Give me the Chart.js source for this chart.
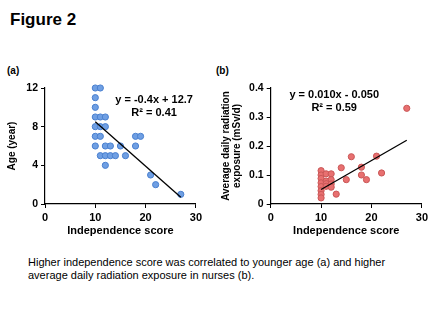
<!DOCTYPE html>
<html>
<head>
<meta charset="utf-8">
<script src="https://cdn.jsdelivr.net/npm/chart.js@4"></script>
<style>
    html, body { margin: 0; padding: 0; background: #fff; }
    body { width: 440px; height: 330px; position: relative; overflow: hidden; font-family: "Liberation Sans", Arial, sans-serif; color: #000; }
    .fig-title { position: absolute; left: 10px; top: 10px; font-size: 17px; font-weight: bold; }
    .panel { position: absolute; top: 65px; font-size: 10px; font-weight: bold; }
    .caption { position: absolute; left: 28px; top: 256px; font-size: 11px; line-height: 13px; }
    .box { position: absolute; }
</style>
</head>
<body>
<div class="fig-title">Figure 2</div>
<div class="panel" style="left:7px;">(a)</div>
<div class="panel" style="left:216px;">(b)</div>

<div class="box" style="left:0px; top:78px; width:205px; height:160px;"><canvas id="ageChart"></canvas></div>
<div class="box" style="left:208px; top:78px; width:223px; height:160px;"><canvas id="radChart"></canvas></div>

<div class="caption">Higher independence score was correlated to younger age (a) and higher<br>average daily radiation exposure in nurses (b).</div>

<script>
// Panel (a): independence score vs age
const ageScore = [10, 11, 10, 10, 10, 11, 12, 10, 11, 12, 10, 11, 18, 19, 10, 12, 13, 15, 18, 11, 12, 13, 14, 16, 12, 21, 22, 27];
const ageYears = [12, 12, 11, 10, 9, 9, 9, 8, 8, 8, 7, 7, 7, 7, 6, 6, 6, 6, 6, 5, 5, 5, 5, 5, 4, 3, 2, 1];
const ageTrendX = [10, 27];
const ageTrendY = [8.5, 0.7];
const ageTicks = [0, 4, 8, 12];

// Panel (b): independence score vs average daily radiation exposure
const radScore = [10, 10, 10, 10, 10, 10, 10, 10, 11, 11, 11, 11, 12, 12, 12, 12, 13, 14, 15, 16, 18, 18, 19, 21, 22, 27];
const radDose = [0.115, 0.10, 0.088, 0.073, 0.06, 0.046, 0.033, 0.021, 0.104, 0.079, 0.07, 0.061, 0.104, 0.084, 0.069, 0.058, 0.034, 0.125, 0.084, 0.163, 0.127, 0.10, 0.084, 0.165, 0.107, 0.33];
const radTrendX = [10, 27];
const radTrendY = [0.05, 0.22];
const radTicks = [0, 0.1, 0.2, 0.3, 0.4];

const scoreTicks = [0, 10, 20, 30];

const FONT = "'Liberation Sans', Arial, sans-serif";

function toPoints(xs, ys) {
    return xs.map((x, i) => ({ x: x, y: ys[i] }));
}

// draws the regression equation text at a data-space anchor
const equationPlugin = {
    id: "equation",
    afterDatasetsDraw(chart, args, opts) {
        const ctx = chart.ctx;
        const xs = chart.scales.x;
        const ys = chart.scales.y;
        ctx.save();
        ctx.fillStyle = "#000";
        ctx.font = "bold 11px " + FONT;
        ctx.textAlign = "center";
        ctx.textBaseline = "middle";
        opts.lines.forEach(line => {
            ctx.fillText(line.text, xs.getPixelForValue(line.x), ys.getPixelForValue(line.y));
        });
        ctx.restore();
    }
};

function makeScatter(canvasId, cfg) {
    const ctx = document.getElementById(canvasId).getContext("2d");
    return new Chart(ctx, {
        type: "scatter",
        data: {
            datasets: [
                {
                    data: toPoints(cfg.xs, cfg.ys),
                    backgroundColor: cfg.fill,
                    borderColor: cfg.edge,
                    borderWidth: 1,
                    pointRadius: 3.1,
                    clip: false,
                    order: 2
                },
                {
                    type: "line",
                    data: toPoints(cfg.trendX, cfg.trendY),
                    borderColor: "#000",
                    borderWidth: 1.3,
                    pointRadius: 0,
                    fill: false,
                    order: 1
                }
            ]
        },
        plugins: [equationPlugin],
        options: {
            responsive: true,
            maintainAspectRatio: false,
            animation: false,
            events: [],
            layout: { padding: { top: 10, right: 9, left: 0, bottom: 0 } },
            plugins: {
                legend: { display: false },
                tooltip: { enabled: false },
                equation: { lines: cfg.equation }
            },
            scales: {
                x: {
                    type: "linear",
                    min: 0,
                    max: 30,
                    afterBuildTicks: s => { s.ticks = scoreTicks.map(v => ({ value: v })); },
                    afterFit: s => { s.height = 34; },
                    border: { color: "#000", width: 1.2 },
                    grid: { display: true, drawOnChartArea: false, drawTicks: true, tickLength: 4, color: "#000" },
                    ticks: { color: "#000", font: { family: FONT, size: 11, weight: "bold" }, padding: 3, maxRotation: 0 },
                    title: { display: true, text: "Independence score", color: "#000", font: { family: FONT, size: 11, weight: "bold" }, padding: { top: 0, bottom: 0 } }
                },
                y: {
                    type: "linear",
                    min: cfg.yMin,
                    max: cfg.yMax,
                    afterBuildTicks: s => { s.ticks = cfg.yTicks.map(v => ({ value: v })); },
                    afterFit: s => { s.width = cfg.yWidth; },
                    border: { color: "#000", width: 1.2 },
                    grid: { display: true, drawOnChartArea: false, drawTicks: true, tickLength: 4, color: "#000" },
                    ticks: { color: "#000", font: { family: FONT, size: 10.5, weight: "bold" }, padding: 3, callback: cfg.tickFmt },
                    title: { display: true, text: cfg.yTitle, color: "#000", font: { family: FONT, size: 10, weight: "bold", lineHeight: 1.1 }, padding: { top: cfg.titlePad, bottom: 0 } }
                }
            }
        }
    });
}

makeScatter("ageChart", {
    xs: ageScore, ys: ageYears,
    trendX: ageTrendX, trendY: ageTrendY,
    fill: "#6f9fe3", edge: "#4a80cf",
    yMin: 0, yMax: 12, yTicks: ageTicks,
    yWidth: 45,
    titlePad: 7,
    yTitle: "Age (year)",
    tickFmt: v => String(v),
    equation: [
        { text: "y = -0.4x + 12.7", x: 21.7, y: 10.75 },
        { text: "R\u00b2 = 0.41", x: 21.7, y: 9.4 }
    ]
});

makeScatter("radChart", {
    xs: radScore, ys: radDose,
    trendX: radTrendX, trendY: radTrendY,
    fill: "#e87070", edge: "#c95757",
    yMin: 0, yMax: 0.4, yTicks: radTicks,
    yWidth: 62.7,
    titlePad: 13,
    yTitle: ["Average daily radiation", "exposure (mSv/d)"],
    tickFmt: v => (v === 0 ? "0" : v.toFixed(1)),
    equation: [
        { text: "y = 0.010x - 0.050", x: 12.6, y: 0.377 },
        { text: "R\u00b2 = 0.59", x: 12.6, y: 0.332 }
    ]
});
</script>
</body>
</html>
